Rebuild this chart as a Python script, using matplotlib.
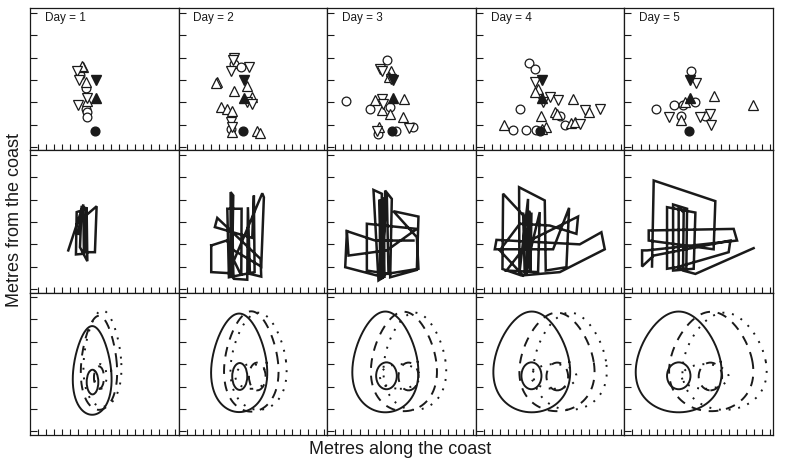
import numpy as np
import matplotlib
matplotlib.use("Agg")
import matplotlib.pyplot as plt
from matplotlib.patches import Ellipse

plt.rcParams['font.family'] = ['Liberation Sans', 'DejaVu Sans']

days = [1, 2, 3, 4, 5]

# ---- top row: positions of individuals (one list per day) ----
circ_x = [[5.19, 5.93, 5.93, 6.1, 6.1],
          [5.85, 6.67, 5.44],
          [6.38, 1.35, 4.24, 6.8, 9.68, 5.35, 7.54],
          [5.6, 6.3, 4.45, 9.48, 3.62, 5.19, 6.43, 10.01],
          [7.29, 7.79, 5.1, 2.96, 6.01, 9.02, 6.26]]
circ_y = [[3.2, 2.65, 1.71, 1.56, 1.34],
          [3.72, 3.57, 0.82],
          [3.91, 2.08, 1.71, 1.78, 0.89, 0.6, 0.72],
          [3.76, 3.47, 1.71, 1.41, 0.77, 0.78, 0.77, 0.97],
          [3.42, 2.0, 1.86, 1.71, 1.41, 1.41, 1.86]]
up_x = [[5.6, 5.4, 5.93, 6.0],
        [3.79, 3.58, 7.5, 5.85, 8.12, 4.2, 5.03, 5.64, 5.64, 8.74, 9.07],
        [6.88, 6.71, 4.94, 8.57, 5.77, 6.8, 8.44, 5.47],
        [6.71, 6.3, 11.04, 8.78, 9.07, 7.13, 13.02, 2.5, 7.75, 7.25, 10.84, 11.25],
        [10.06, 6.55, 6.05, 14.88]]
up_y = [[3.6, 3.64, 2.9, 2.08],
        [2.9, 2.85, 2.75, 2.5, 2.26, 1.81, 1.71, 1.6, 0.67, 0.7, 0.62],
        [3.39, 3.12, 2.11, 2.16, 1.64, 1.49, 1.34, 0.92],
        [2.6, 2.45, 2.16, 1.56, 1.49, 1.41, 1.59, 0.97, 0.92, 0.82, 1.07, 1.11],
        [2.27, 2.0, 1.22, 1.86]]
down_x = [[4.8, 5.1, 6.1, 5.0],
          [5.85, 5.77, 7.7, 5.44, 7.5, 8.12, 5.44, 5.64],
          [5.56, 5.77, 6.88, 5.77, 5.97, 9.19, 5.15],
          [6.3, 8.16, 9.19, 7.33, 12.49, 14.35, 11.87],
          [7.91, 4.49, 8.41, 9.64, 9.77]]
down_y = [[3.42, 2.98, 2.2, 1.86],
          [3.99, 3.87, 3.6, 3.42, 2.0, 1.93, 1.11, 0.89],
          [3.5, 3.42, 3.05, 2.16, 1.93, 0.85, 0.7],
          [2.9, 2.23, 2.11, 2.0, 1.64, 1.71, 1.04],
          [2.85, 1.34, 1.34, 1.49, 0.97]]
# fixed reference points (filled), same every day
fix_circ = (7.0, 0.7)
fix_up = (7.15, 2.2)
fix_down = (7.15, 3.0)

# ---- middle row: tracks ----
track_x = [
    [3.74, 5.6, 5.68, 4.69, 4.78, 6.01, 6.1, 5.19, 5.39, 5.93, 5.93, 7.04, 7.25, 5.19, 4.98],
    [3.04, 3.04, 5.44, 5.44, 5.77, 5.6, 5.55, 5.75, 5.65, 5.5, 5.85, 7.5, 7.58, 7.83, 9.23,
     9.15, 3.79, 3.49, 8.12, 8.32, 8.41, 5.23, 5.03, 6.8, 6.76, 5.85, 9.36, 9.56, 9.23, 5.85,
     4.94, 3.04],
    [1.44, 1.23, 5.15, 10.3, 10.1, 7.2, 10.3, 10.1, 6.8, 7.0, 6.18, 5.97, 5.35, 4.73, 5.77,
     5.56, 5.5, 5.7, 5.9, 6.1, 5.6, 5.8, 6.0, 5.65, 6.38, 6.59, 3.91, 3.91, 10.1, 6.38, 1.64,
     1.44, 4.94, 9.68],
    [5.9, 2.38, 2.3, 4.65, 9.4, 14.97, 14.55, 11.87, 1.56, 1.35, 8.57, 10.55, 10.22, 7.66, 7.54,
     4.36, 4.4, 5.47, 5.27, 5.89, 5.77, 5.6, 5.7, 4.86, 5.06, 6.92, 6.71, 2.8, 5.68, 11.66,
     11.46, 8.16, 4.45, 1.97, 4.86],
    [2.42, 2.63, 10.26, 10.05, 2.01, 2.01, 12.53, 12.95, 1.81, 1.19, 1.19, 2.63, 12.12, 11.91,
     5.52, 4.28, 4.28, 7.79, 7.58, 5.03, 5.03, 6.76, 6.67, 5.72, 5.72, 6.34, 6.26, 7.79, 15.0]]
track_y = [
    [1.73, 3.78, 1.58, 1.55, 3.44, 3.59, 1.25, 1.87, 3.66, 3.62, 1.65, 1.65, 3.7, 3.06, 2.47],
    [1.95, 0.76, 0.71, 4.33, 4.18, 0.5, 4.2, 0.55, 4.1, 0.6, 0.46, 0.42, 3.66, 0.68, 0.56,
     1.35, 3.18, 2.77, 2.29, 4.18, 0.76, 0.53, 3.59, 3.59, 0.61, 1.28, 4.28, 4.1, 1.01, 1.73,
     2.17, 1.95],
    [2.59, 0.98, 0.61, 0.91, 2.32, 3.48, 3.24, 0.86, 0.53, 4.03, 4.4, 0.53, 0.39, 4.43, 4.26,
     0.46, 4.0, 0.5, 4.1, 0.5, 3.9, 0.45, 3.95, 0.6, 4.26, 0.68, 0.83, 2.92, 2.69, 1.73, 1.5,
     2.59, 2.17, 2.17],
    [2.9, 4.26, 0.9, 0.61, 0.76, 1.78, 2.54, 2.0, 2.2, 1.78, 1.78, 3.63, 0.98, 0.83, 3.96,
     4.55, 0.7, 4.03, 0.68, 3.42, 0.83, 3.5, 0.75, 3.42, 0.68, 3.44, 0.76, 0.83, 2.17, 3.24,
     2.47, 2.84, 2.92, 1.73, 0.61],
    [1.01, 4.85, 3.93, 1.78, 2.17, 2.62, 2.69, 2.17, 1.73, 1.73, 1.01, 1.5, 2.17, 1.65,
     0.98, 0.91, 3.66, 3.42, 0.91, 0.83, 3.78, 3.59, 0.91, 0.91, 3.66, 3.42, 0.83, 0.68, 1.83]]

# ---- bottom row: range contours (large = egg, small = core ellipse) ----
styles = ['-', (0, (5, 4)), (0, (1, 4))]
big_cx = [[6.7, 6.5, 6.2, 5.93, 5.72], [7.54, 8.0, 8.5, 9.05, 9.75], [7.97, 8.9, 9.85, 10.67, 11.4]]
big_cy = [[2.72, 3.06, 3.1, 3.1, 3.1], [3.06, 3.12, 3.12, 3.1, 3.12], [3.25, 3.13, 3.13, 3.13, 3.13]]
big_rx = [[2.35, 3.4, 4.0, 4.65, 5.2], [2.2, 3.3, 4.0, 4.55, 5.1], [2.3, 3.4, 3.8, 4.45, 5.1]]
big_ry = [[1.98, 2.2, 2.25, 2.25, 2.25], [2.1, 2.24, 2.22, 2.2, 2.22], [2.15, 2.17, 2.17, 2.17, 2.17]]
small_cx = [[6.74, 6.57, 6.34, 5.89, 5.73], [7.54, 8.74, 9.07, 9.09, 9.65], [7.72, 8.0, 8.0, 8.67, 9.0]]
small_cy = [[2.2, 2.45, 2.48, 2.48, 2.48], [2.4, 2.45, 2.45, 2.45, 2.45], [2.45, 2.45, 2.45, 2.45, 2.45]]
small_rx = [[0.72, 0.93, 1.28, 1.24, 1.45], [0.62, 1.03, 1.24, 1.34, 1.45], [0.77, 1.97, 2.47, 2.8, 2.9]]
small_ry = [[0.55, 0.6, 0.6, 0.6, 0.6], [0.5, 0.62, 0.62, 0.62, 0.62], [0.55, 0.55, 0.55, 0.55, 0.55]]


def egg(cx, cy, rx, ry):
    t = np.linspace(0, 2 * np.pi, 200)
    return cx + rx * np.cos(t) * (1 - 0.22 * np.sin(t)), cy + ry * np.sin(t)


fig = plt.figure(figsize=(8, 4.7), dpi=100)
W, H = 800.0, 470.0
col_left = 30.0
col_w = 148.6
row_top = [8.3, 150.3, 292.5]
row_h = 142.2
ink = '#1a1a1a'

axes = []
for r in range(3):
    row = []
    for c in range(5):
        ax = fig.add_axes([(col_left + c * col_w) / W, 1 - (row_top[r] + row_h) / H,
                           col_w / W, row_h / H])
        ax.set_xlim(-1, 17.4)
        ax.set_ylim(-0.15, 6.2)
        ax.set_xticks(range(18))
        ax.set_yticks(range(7))
        ax.tick_params(axis='x', direction='in', length=4, width=0.8, color=ink,
                       labelbottom=False)
        ax.tick_params(axis='y', direction='in', length=5, width=0.8, color=ink,
                       labelleft=False)
        for s in ax.spines.values():
            s.set_linewidth(0.9)
            s.set_color(ink)
        row.append(ax)
    axes.append(row)

mk = dict(linestyle='none', markerfacecolor='white', markeredgecolor=ink, markeredgewidth=0.9)
for i, d in enumerate(days):
    ax = axes[0][i]
    ax.plot(circ_x[i], circ_y[i], marker='o', markersize=6.3, **mk)
    ax.plot(up_x[i], up_y[i], marker='^', markersize=7.8, **mk)
    ax.plot(down_x[i], down_y[i], marker='v', markersize=7.8, **mk)
    ax.plot(*fix_circ, marker='o', markersize=6.3, color=ink, linestyle='none')
    ax.plot(*fix_up, marker='^', markersize=7.8, color=ink, linestyle='none')
    ax.plot(*fix_down, marker='v', markersize=7.8, color=ink, linestyle='none')
    ax.text(0.1, 0.93, f"Day = {d}", transform=ax.transAxes, fontsize=8.5,
            va='center', ha='left', color=ink)

    ax = axes[1][i]
    ax.plot(track_x[i], track_y[i], color=ink, linewidth=1.8, solid_joinstyle='miter')

    ax = axes[2][i]
    for g in range(3):
        ex, ey = egg(big_cx[g][i], big_cy[g][i], big_rx[g][i], big_ry[g][i])
        ax.plot(ex, ey, color=ink, linewidth=1.4, linestyle=styles[g])
        ax.add_patch(Ellipse((small_cx[g][i], small_cy[g][i]), 2 * small_rx[g][i],
                             2 * small_ry[g][i], fill=False, edgecolor=ink,
                             linewidth=1.4, linestyle=styles[g]))

fig.text(400 / W, 1 - 449 / H, "Metres along the coast", fontsize=13,
         ha='center', va='center', color=ink)
fig.text(15 / W, 1 - 220 / H, "Metres from the coast", fontsize=13,
         ha='center', va='center', rotation=90, color=ink)

fig.savefig("out.png", dpi=100)
